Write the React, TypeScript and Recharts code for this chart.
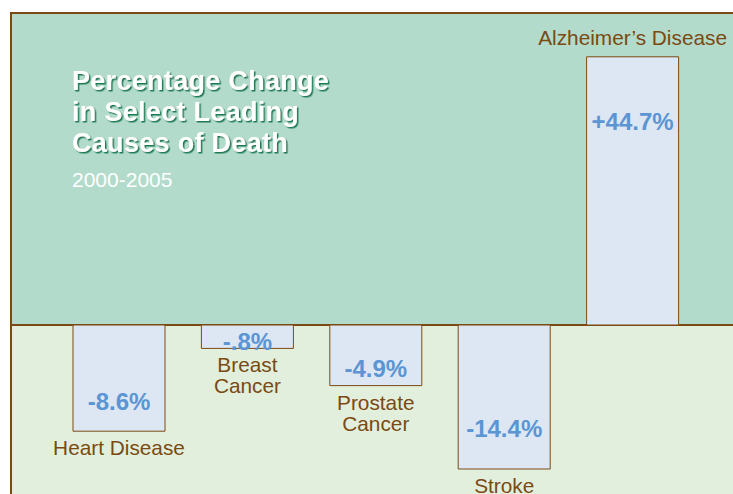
import React from 'react';
import * as R from 'recharts';
import { BarChart, Bar, XAxis, YAxis, LabelList } from 'recharts';

const categories = ['Heart Disease', 'Breast\nCancer', 'Prostate\nCancer', 'Stroke', 'Alzheimer’s Disease'];
// change printed on each bar, 2000-2005 (%)
const changes = [-8.6, -0.8, -4.9, -14.4, 44.7];
// the original graphic is not drawn to scale, so bar lengths are read as drawn
// (in the units of the Alzheimer's bar)
const drawnLengths = [-17.7, -3.9, -10.1, -24.0, 44.7];

const Y_MIN = -30;
const Y_MAX = 52;

const data = categories.map((name, i) => ({ name, change: changes[i], drawn: drawnLengths[i] }));

const TEAL = '#b2dbcc';
const PALE = '#e1efdc';
const BROWN = '#7b4a12';
const BAR_FILL = '#dce7f3';
const BLUE = '#5b95d4';
const FONT = '"Liberation Sans", Arial, Helvetica, sans-serif';

const fmt = (v: number) => (v > 0 ? '+' : '-') + Math.abs(v).toFixed(1).replace(/^0/, '') + '%';

function usePlot() {
  const hook = (R as any).usePlotArea || (R as any).useOffset;
  const a = hook ? hook() : null;
  if (!a) return null;
  if (a.x !== undefined) return a;
  // useOffset shape
  return { x: a.left, y: a.top, width: 745 - a.left - a.right, height: 505 - a.top - a.bottom };
}

function Backdrop() {
  const area = usePlot();
  if (!area) return null;
  const zeroY = area.y + (area.height * Y_MAX) / (Y_MAX - Y_MIN);
  return (
    <g>
      <defs>
        <filter id="titleShadow" x="-5%" y="-20%" width="110%" height="140%">
          <feDropShadow dx={1.5} dy={1.5} stdDeviation={0} floodColor="#1b7a52" floodOpacity={1} />
        </filter>
      </defs>
      <rect x={area.x} y={area.y} width={area.width} height={zeroY - area.y} fill={TEAL} />
      <rect x={area.x} y={zeroY} width={area.width} height={area.y + area.height - zeroY} fill={PALE} />
      <text fontFamily={FONT} fontWeight="bold" fontSize={27} letterSpacing={0.3} fill="#ffffff" filter="url(#titleShadow)">
        {['Percentage Change', 'in Select Leading', 'Causes of Death'].map((t, i) => (
          <tspan key={t} x={72} y={90 + i * 30.8}>{t}</tspan>
        ))}
      </text>
      <text x={72} y={187} fill="#ffffff" fontFamily={FONT} fontSize={21}>2000-2005</text>
    </g>
  );
}

function Frame() {
  const area = usePlot();
  if (!area) return null;
  const zeroY = area.y + (area.height * Y_MAX) / (Y_MAX - Y_MIN);
  return (
    <g stroke={BROWN} strokeWidth={2}>
      <line x1={area.x} y1={zeroY} x2={area.x + area.width} y2={zeroY} />
      <line x1={area.x} y1={area.y} x2={area.x + area.width} y2={area.y} />
      <line x1={area.x} y1={area.y - 1} x2={area.x} y2={area.y + area.height} />
    </g>
  );
}

const ValueLabel = (props: any) => {
  const { x, y, width, height, value } = props;
  const top = Math.min(y, y + height);
  const bottom = Math.max(y, y + height);
  const len = bottom - top;
  const cy = value >= 0 ? bottom - 0.76 * len : top + 0.72 * len;
  return (
    <text x={x + width / 2} y={cy + 8.6} textAnchor="middle" fill={BLUE} fontFamily={FONT} fontWeight="bold" fontSize={24}>
      {fmt(value)}
    </text>
  );
};

const CategoryLabel = (props: any) => {
  const { x, y, width, height, value } = props;
  const top = Math.min(y, y + height);
  const bottom = Math.max(y, y + height);
  const i = categories.indexOf(value);
  const lines = String(value).split('\n');
  const positive = drawnLengths[i] >= 0;
  const firstBase = positive ? top - 12 - (lines.length - 1) * 21 : bottom + 24;
  return (
    <text textAnchor="middle" fill={BROWN} fontFamily={FONT} fontSize={20.8}>
      {lines.map((l, k) => (
        <tspan key={k} x={x + width / 2} y={firstBase + k * 21}>{l}</tspan>
      ))}
    </text>
  );
};

export default function App() {
  return (
    <div style={{ position: 'absolute', left: 0, top: 0, width: 733, height: 494, overflow: 'hidden', background: '#fff' }}>
      <BarChart width={745} height={505} data={data} margin={{ top: 13, right: 0, left: 11, bottom: 0 }}>
        <Backdrop />
        <XAxis dataKey="name" hide padding={{ left: 44, right: 48 }} />
        <YAxis type="number" hide domain={[Y_MIN, Y_MAX]} allowDataOverflow />
        <Bar dataKey="drawn" barSize={92} fill={BAR_FILL} stroke={BROWN} strokeWidth={1} isAnimationActive={false}>
          <LabelList dataKey="change" content={ValueLabel} />
          <LabelList dataKey="name" content={CategoryLabel} />
        </Bar>
        <Frame />
      </BarChart>
    </div>
  );
}
